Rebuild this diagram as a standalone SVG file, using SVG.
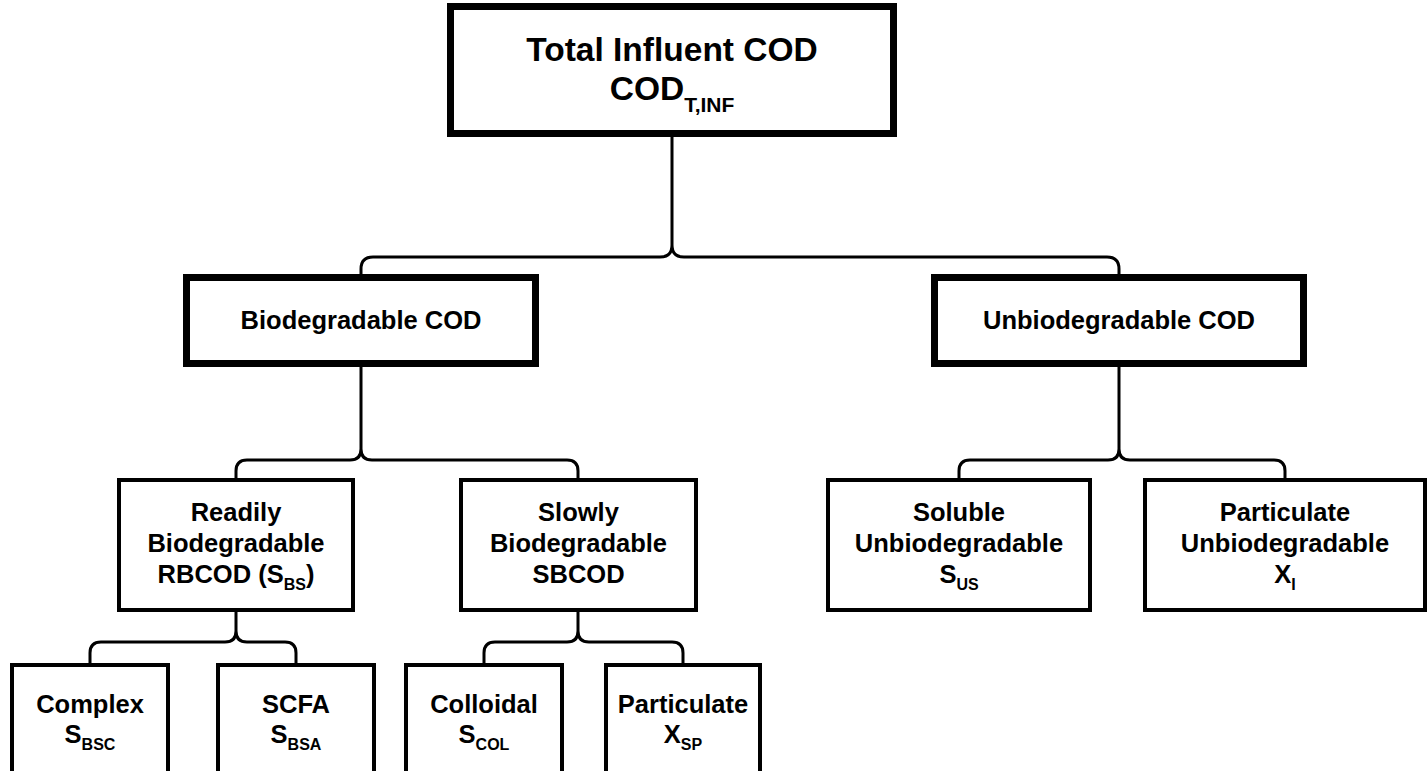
<svg xmlns="http://www.w3.org/2000/svg" width="1427" height="771" viewBox="0 0 1427 771">
<style>
.thick{fill:#fff;stroke:#000;stroke-width:7;stroke-linejoin:miter}
.thin{fill:#fff;stroke:#000;stroke-width:4}
.conn{fill:none;stroke:#000;stroke-width:3;stroke-linejoin:round}
text{font-family:"Liberation Sans",Arial,sans-serif;font-weight:bold;fill:#000;text-anchor:middle}
.t1{font-size:33.5px}
.t2{font-size:25.5px}
.s1{font-size:21px}
.s2{font-size:16px}
</style>
<rect width="1427" height="771" fill="#fff"/>
<g id="connectors">
<path class="conn" d="M672,137 V245 Q672,257 660,257 H373 Q361,257 361,269 V275 M672,245 Q672,257 684,257 H1107 Q1119,257 1119,269 V275"/>
<path class="conn" d="M361,367 V449 Q361,460 350,460 H247 Q236,460 236,471 V479 M361,449 Q361,460 372,460 H567 Q578,460 578,471 V479"/>
<path class="conn" d="M1119,367 V449 Q1119,460 1108,460 H970 Q959,460 959,471 V479 M1119,449 Q1119,460 1130,460 H1274 Q1285,460 1285,471 V479"/>
<path class="conn" d="M236,612 V631 Q236,642 225,642 H101 Q90,642 90,653 V664 M236,631 Q236,642 247,642 H285 Q296,642 296,653 V664"/>
<path class="conn" d="M578,612 V631 Q578,642 567,642 H495 Q484,642 484,653 V664 M578,631 Q578,642 589,642 H672 Q683,642 683,653 V664"/>
</g>
<g id="total">
<rect class="thick" x="450.5" y="6.5" width="443" height="127"/>
<text class="t1" x="672" y="61">Total Influent COD</text>
<text class="t1" x="672" y="100">COD<tspan class="s1" dy="12">T,INF</tspan></text>
</g>
<g id="biodegradable">
<rect class="thick" x="186.5" y="277.5" width="349" height="86"/>
<text class="t2" x="361" y="329">Biodegradable COD</text>
</g>
<g id="unbiodegradable">
<rect class="thick" x="934.5" y="277.5" width="369" height="86"/>
<text class="t2" x="1119" y="329">Unbiodegradable COD</text>
</g>
<g id="readily">
<rect class="thin" x="119" y="480" width="234" height="130"/>
<text class="t2" x="236" y="521">Readily</text>
<text class="t2" x="236" y="552">Biodegradable</text>
<text class="t2" x="236" y="583">RBCOD (S<tspan class="s2" dy="7">BS</tspan><tspan dy="-7">)</tspan></text>
</g>
<g id="slowly">
<rect class="thin" x="461" y="480" width="235" height="130"/>
<text class="t2" x="578.5" y="521">Slowly</text>
<text class="t2" x="578.5" y="552">Biodegradable</text>
<text class="t2" x="578.5" y="583">SBCOD</text>
</g>
<g id="soluble">
<rect class="thin" x="828" y="480" width="262" height="130"/>
<text class="t2" x="959" y="521">Soluble</text>
<text class="t2" x="959" y="552">Unbiodegradable</text>
<text class="t2" x="959" y="583">S<tspan class="s2" dy="7">US</tspan></text>
</g>
<g id="particulate-unbio">
<rect class="thin" x="1145" y="480" width="280" height="130"/>
<text class="t2" x="1285" y="521">Particulate</text>
<text class="t2" x="1285" y="552">Unbiodegradable</text>
<text class="t2" x="1285" y="583">X<tspan class="s2" dy="7">I</tspan></text>
</g>
<g id="complex">
<rect class="thin" x="12" y="665" width="156" height="120"/>
<text class="t2" x="90" y="713">Complex</text>
<text class="t2" x="90" y="743">S<tspan class="s2" dy="7">BSC</tspan></text>
</g>
<g id="scfa">
<rect class="thin" x="218" y="665" width="156" height="120"/>
<text class="t2" x="296" y="713">SCFA</text>
<text class="t2" x="296" y="743">S<tspan class="s2" dy="7">BSA</tspan></text>
</g>
<g id="colloidal">
<rect class="thin" x="406" y="665" width="156" height="120"/>
<text class="t2" x="484" y="713">Colloidal</text>
<text class="t2" x="484" y="743">S<tspan class="s2" dy="7">COL</tspan></text>
</g>
<g id="particulate">
<rect class="thin" x="606" y="665" width="154" height="120"/>
<text class="t2" x="683" y="713">Particulate</text>
<text class="t2" x="683" y="743">X<tspan class="s2" dy="7">SP</tspan></text>
</g>
</svg>
